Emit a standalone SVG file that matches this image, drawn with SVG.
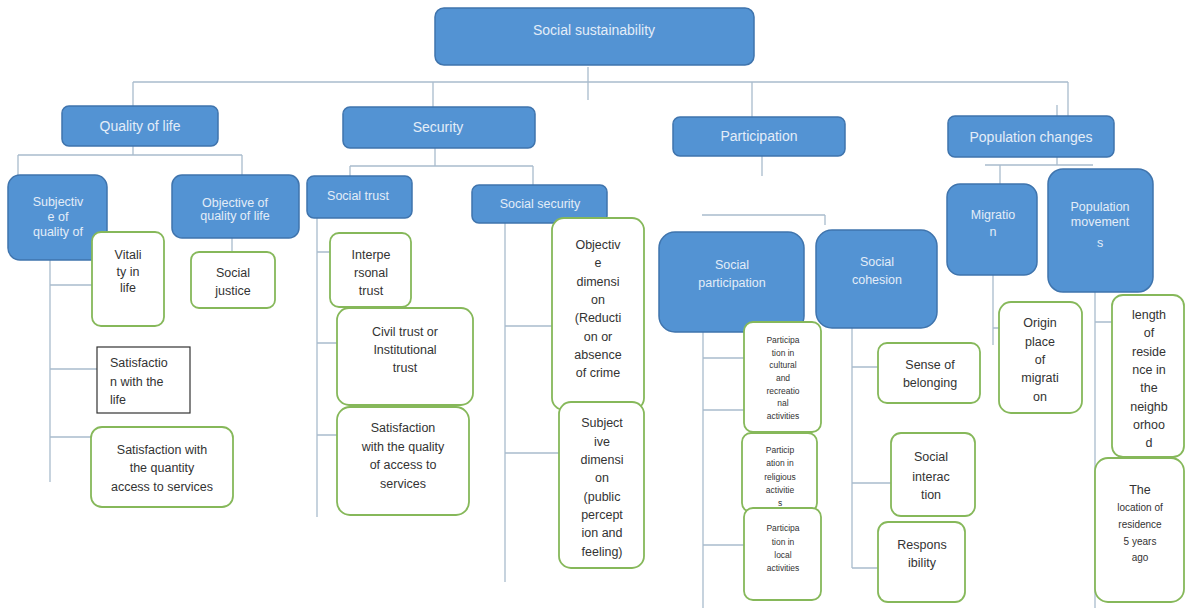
<svg xmlns="http://www.w3.org/2000/svg" width="1185" height="608" viewBox="0 0 1185 608">
<style>
.b{fill:#5393d3;stroke:#3f74ad;stroke-width:1.5}
.g{fill:#fff;stroke:#86b85a;stroke-width:1.8}
.k{fill:#fff;stroke:#333;stroke-width:1.2}
.c{fill:none;stroke:#a9bccd;stroke-width:1.3}
text{font-family:"Liberation Sans",Arial,sans-serif;font-size:12.5px;text-anchor:middle}
.w{fill:#e3edf8}
.d{fill:#333}
.L{font-size:14px}
.s{font-size:8.5px}
.m{font-size:10px}
</style>
<rect width="1185" height="608" fill="#fff"/>
<g id="connectors">
<path class="c" d="M133 82H1068M588 67V100M133 82V106M433 82V107M752 82V117M1068 82V116M1057 105V116"/>
<path class="c" d="M18 155H242M133 146V155M18 155V176M242 155V176M232 238V252"/>
<path class="c" d="M50 260V482M50 285H92M50 369H97M50 437H110"/>
<path class="c" d="M350 166H533M435 148V166M350 166V176M533 166V185"/>
<path class="c" d="M317 218V517M317 252H331M317 343H338M317 435H355"/>
<path class="c" d="M505 223V582M505 326H553M505 453H560"/>
<path class="c" d="M762 156V176M702 215H825M825 215V225"/>
<path class="c" d="M703 332V608M703 358H745M703 410H745M703 545H745"/>
<path class="c" d="M852 328V568M852 367H878M852 483H891M852 568H878"/>
<path class="c" d="M985 165H1093M1057 157V165M1000 165V184"/>
<path class="c" d="M993 275V345M993 328H1000M1095 292V608M1095 322H1112"/>
</g>
<g id="n-social-sustainability"><rect class="b" x="435" y="8" width="319" height="57" rx="9"/><text class="w L" x="594" y="35">Social sustainability</text></g>
<g id="n-quality-of-life"><rect class="b" x="62" y="106" width="156" height="40" rx="7"/><text class="w L" x="140" y="131">Quality of life</text></g>
<g id="n-security"><rect class="b" x="343" y="107" width="192" height="41" rx="7"/><text class="w L" x="438" y="132">Security</text></g>
<g id="n-participation"><rect class="b" x="673" y="117" width="172" height="39" rx="7"/><text class="w L" x="759" y="141">Participation</text></g>
<g id="n-population-changes"><rect class="b" x="948" y="116" width="166" height="41" rx="7"/><text class="w L" x="1031" y="142">Population changes</text></g>

<g id="n-subjective"><rect class="b" x="8" y="175" width="99" height="85" rx="12"/><text class="w" x="58" y="206">Subjectiv</text><text class="w" x="58" y="221">e of</text><text class="w" x="58" y="236">quality of</text></g>
<g id="n-objective"><rect class="b" x="172" y="175" width="127" height="63" rx="10"/><text class="w" x="235" y="207">Objective of</text><text class="w" x="235" y="220">quality of life</text></g>
<g id="n-vitality"><rect class="g" x="92" y="232" width="72" height="94" rx="9"/><text class="d" x="128" y="259">Vitali</text><text class="d" x="128" y="276">ty  in</text><text class="d" x="128" y="292">life</text></g>
<g id="n-social-justice"><rect class="g" x="191" y="252" width="84" height="56" rx="8"/><text class="d" x="233" y="277">Social</text><text class="d" x="233" y="295">justice</text></g>
<g id="n-satisfaction-life"><rect class="k" x="97" y="347" width="93" height="66"/><text class="d" x="110" y="367" style="text-anchor:start">Satisfactio</text><text class="d" x="110" y="386" style="text-anchor:start">n with the</text><text class="d" x="110" y="404" style="text-anchor:start">life</text></g>
<g id="n-satisfaction-quantity"><rect class="g" x="91" y="427" width="142" height="80" rx="11"/><text class="d" x="162" y="454">Satisfaction with</text><text class="d" x="162" y="472">the quantity</text><text class="d" x="162" y="491">access to services</text></g>

<g id="n-social-trust"><rect class="b" x="307" y="176" width="105" height="42" rx="7"/><text class="w" x="358" y="200">Social trust</text></g>
<g id="n-social-security"><rect class="b" x="472" y="185" width="135" height="38" rx="7"/><text class="w" x="540" y="208">Social security</text></g>
<g id="n-interpersonal"><rect class="g" x="330" y="233" width="81" height="74" rx="9"/><text class="d" x="371" y="259">Interpe</text><text class="d" x="371" y="277">rsonal</text><text class="d" x="371" y="295">trust</text></g>
<g id="n-civil-trust"><rect class="g" x="337" y="308" width="136" height="97" rx="12"/><text class="d" x="405" y="336">Civil trust or</text><text class="d" x="405" y="354">Institutional</text><text class="d" x="405" y="372">trust</text></g>
<g id="n-satisfaction-quality"><rect class="g" x="337" y="407" width="132" height="108" rx="13"/><text class="d" x="403" y="432">Satisfaction</text><text class="d" x="403" y="451">with the quality</text><text class="d" x="403" y="469">of access to</text><text class="d" x="403" y="488">services</text></g>
<g id="n-objective-dimension"><rect class="g" x="552" y="218" width="92" height="192" rx="12"/><text class="d" x="598" y="249">Objectiv</text><text class="d" x="598" y="267">e</text><text class="d" x="598" y="286">dimensi</text><text class="d" x="598" y="304">on</text><text class="d" x="598" y="322">(Reducti</text><text class="d" x="598" y="341">on or</text><text class="d" x="598" y="359">absence</text><text class="d" x="598" y="377">of crime</text></g>
<g id="n-subjective-dimension"><rect class="g" x="559" y="402" width="85" height="166" rx="12"/><text class="d" x="602" y="427">Subject</text><text class="d" x="602" y="446">ive</text><text class="d" x="602" y="464">dimensi</text><text class="d" x="602" y="482">on</text><text class="d" x="602" y="501">(public</text><text class="d" x="602" y="519">percept</text><text class="d" x="602" y="537">ion and</text><text class="d" x="602" y="556">feeling)</text></g>

<g id="n-social-participation"><rect class="b" x="659" y="232" width="145" height="100" rx="16"/><text class="w" x="732" y="269">Social</text><text class="w" x="732" y="287">participation</text></g>
<g id="n-social-cohesion"><rect class="b" x="816" y="230" width="121" height="98" rx="16"/><text class="w" x="877" y="266">Social</text><text class="w" x="877" y="284">cohesion</text></g>
<g id="n-part-cultural"><rect class="g" x="744" y="322" width="77" height="110" rx="9"/><text class="d s" x="783" y="343">Participa</text><text class="d s" x="783" y="356">tion in</text><text class="d s" x="783" y="368">cultural</text><text class="d s" x="783" y="381">and</text><text class="d s" x="783" y="394">recreatio</text><text class="d s" x="783" y="406">nal</text><text class="d s" x="783" y="419">activities</text></g>
<g id="n-part-religious"><rect class="g" x="742" y="433" width="75" height="79" rx="9"/><text class="d s" x="780" y="453">Particip</text><text class="d s" x="780" y="466">ation in</text><text class="d s" x="780" y="480">religious</text><text class="d s" x="780" y="493">activitie</text><text class="d s" x="780" y="506">s</text></g>
<g id="n-part-local"><rect class="g" x="744" y="508" width="77" height="92" rx="9"/><text class="d s" x="783" y="531">Participa</text><text class="d s" x="783" y="545">tion in</text><text class="d s" x="783" y="558">local</text><text class="d s" x="783" y="571">activities</text></g>
<g id="n-sense-belonging"><rect class="g" x="878" y="343" width="102" height="60" rx="9"/><text class="d" x="930" y="369">Sense of</text><text class="d" x="930" y="387">belonging</text></g>
<g id="n-social-interaction"><rect class="g" x="891" y="433" width="84" height="83" rx="10"/><text class="d" x="931" y="461">Social</text><text class="d" x="931" y="481">interac</text><text class="d" x="931" y="499">tion</text></g>
<g id="n-responsibility"><rect class="g" x="878" y="522" width="87" height="80" rx="10"/><text class="d" x="922" y="549">Respons</text><text class="d" x="922" y="567">ibility</text></g>

<g id="n-migration"><rect class="b" x="947" y="184" width="90" height="91" rx="13"/><text class="w" x="993" y="219">Migratio</text><text class="w" x="993" y="236">n</text></g>
<g id="n-population-movements"><rect class="b" x="1048" y="169" width="105" height="123" rx="15"/><text class="w" x="1100" y="211">Population</text><text class="w" x="1100" y="226">movement</text><text class="w" x="1100" y="247">s</text></g>
<g id="n-origin"><rect class="g" x="999" y="302" width="83" height="111" rx="12"/><text class="d" x="1040" y="327">Origin</text><text class="d" x="1040" y="346">place</text><text class="d" x="1040" y="364">of</text><text class="d" x="1040" y="382">migrati</text><text class="d" x="1040" y="401">on</text></g>
<g id="n-length-residence"><rect class="g" x="1112" y="295" width="72" height="162" rx="11"/><text class="d" x="1149" y="319">length</text><text class="d" x="1149" y="337">of</text><text class="d" x="1149" y="356">reside</text><text class="d" x="1149" y="374">nce in</text><text class="d" x="1149" y="392">the</text><text class="d" x="1149" y="411">neighb</text><text class="d" x="1149" y="429">orhoo</text><text class="d" x="1149" y="447">d</text></g>
<g id="n-location-residence"><rect class="g" x="1095" y="458" width="89" height="144" rx="13"/><text class="d" x="1140" y="494">The</text><text class="d m" x="1140" y="511">location of</text><text class="d m" x="1140" y="528">residence</text><text class="d m" x="1140" y="545">5 years</text><text class="d m" x="1140" y="561">ago</text></g>
</svg>
